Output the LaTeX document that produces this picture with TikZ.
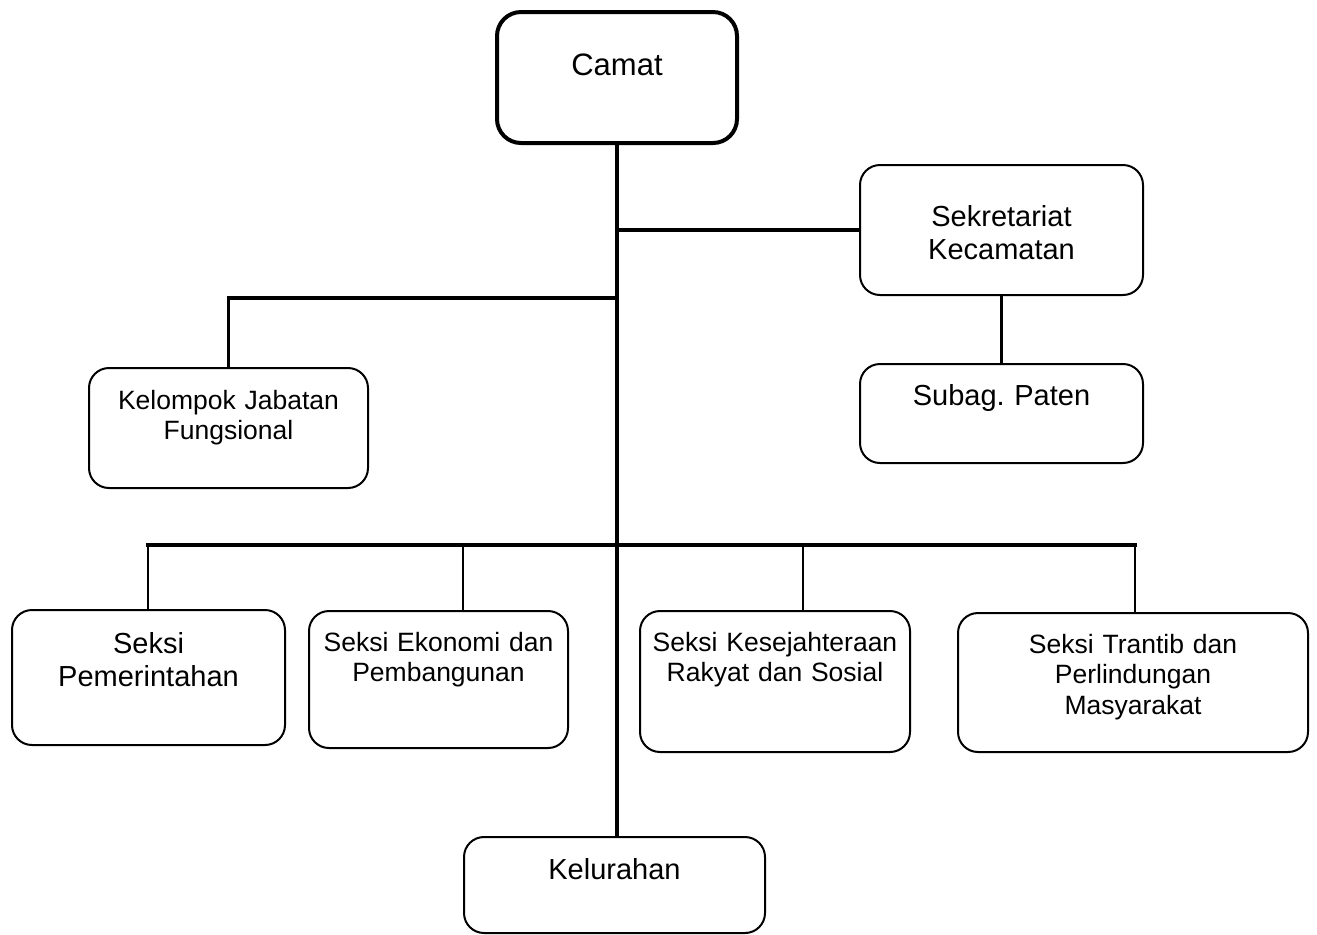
\documentclass[tikz,border=0pt]{standalone}
\usepackage{fontspec}
\setmainfont{Liberation Sans}
\usepackage{tikz}
\usetikzlibrary{positioning,calc}
\frenchspacing

\begin{document}
\begin{tikzpicture}[x=0.5pt, y=-0.5pt, line join=miter]

    \tikzstyle{unit} = [rectangle, rounded corners=10pt, draw=black, line width=1pt, inner sep=0pt, align=center, anchor=north west, font=\fontsize{14.5}{16.5}\selectfont]
    \tikzstyle{small} = [font=\fontsize{13.25}{15.25}\selectfont]
    \tikzstyle{trunk} = [line width=2.2pt]
    \tikzstyle{branch} = [line width=1.6pt, line cap=rect]
    \tikzstyle{drop} = [line width=1.25pt]

    \useasboundingbox (0,0) rectangle (1317,934);

    \node (camat)  [unit, line width=2pt, rounded corners=12pt, text width=120pt, text height=31.5pt, text depth=34pt, font=\fontsize{15.5}{18}\selectfont] at (495,10) {Camat};

    \node (sekr)  [unit, text width=141.5pt, text height=30.5pt, text depth=34.5pt] at (859,164) {Sekretariat\\Kecamatan};

    \node (subag)  [unit, text width=141.5pt, text height=20.5pt, text depth=29pt] at (859,363) {Subag. Paten};

    \node (kelompok)  [unit, small, text width=139.5pt, text height=20.5pt, text depth=39.5pt] at (88,367) {Kelompok Jabatan\\Fungsional};

    \node (pemerintahan)  [unit, text width=136.5pt, text height=21.5pt, text depth=46pt] at (11,609) {Seksi\\Pemerintahan};

    \node (ekonomi)  [unit, small, text width=129.5pt, text height=20pt, text depth=48.5pt] at (308,610) {Seksi Ekonomi dan\\Pembangunan};

    \node (kesej)  [unit, small, text width=135pt, text height=20pt, text depth=50.5pt] at (639,610) {Seksi Kesejahteraan\\Rakyat dan Sosial};

    \node (trantib)  [unit, small, text width=175pt, text height=20pt, text depth=49.5pt] at (957,612) {Seksi Trantib dan\\Perlindungan\\Masyarakat};

    \node (kelurahan)  [unit, text width=150.5pt, text height=21pt, text depth=27pt] at (463,836) {Kelurahan};

    \coordinate (sjoint) at (camat.south |- sekr.west);
    \coordinate (kjoint) at (615,298);
    \coordinate (d1) at (148,545);
    \coordinate (d2) at (463,545);
    \coordinate (d3) at (803,545);
    \coordinate (d4) at (1135,545);

    \draw[trunk]  (camat.south) -- (camat.south |- kelurahan.north);
    \draw[branch] (sjoint) -- (sekr.west);
    \draw[branch] (kjoint) -| (kelompok.north);
    \draw[drop]   (sekr.south) -- (subag.north);
    \draw[branch] (d1) -- (d4);
    \foreach \d/\n in {d1/pemerintahan, d2/ekonomi, d3/kesej, d4/trantib}
        \draw[drop] (\d) -- (\d |- \n.north);
\end{tikzpicture}
\end{document}
